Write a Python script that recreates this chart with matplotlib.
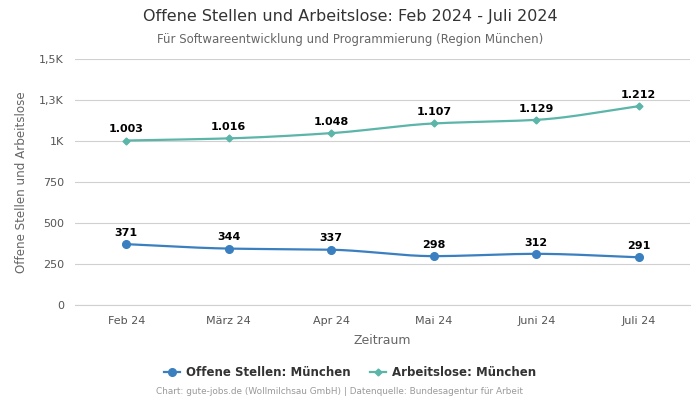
import numpy as np
import matplotlib.pyplot as plt

# Daten
months = ["Feb 24", "März 24", "Apr 24", "Mai 24", "Juni 24", "Juli 24"]
offene_stellen = [371, 344, 337, 298, 312, 291]
arbeitslose = [1003, 1016, 1048, 1107, 1129, 1212]

ytick_vals = [0, 250, 500, 750, 1000, 1250, 1500]
ytick_labels = ["0", "250", "500", "750", "1K", "1,3K", "1,5K"]


def fmt_de(v):
    return f"{v:,}".replace(",", ".")


def monotone_curve(x, y, n=40):
    """monotone kubische Hermite-Interpolation (wie Highcharts-Spline)"""
    x = np.asarray(x, float)
    y = np.asarray(y, float)
    h = np.diff(x)
    d = np.diff(y) / h
    m = np.zeros_like(y)
    m[0], m[-1] = d[0], d[-1]
    for i in range(1, len(y) - 1):
        if d[i - 1] * d[i] <= 0:
            m[i] = 0
        else:
            m[i] = 2 / (1 / d[i - 1] + 1 / d[i])
    xs, ys = [], []
    for i in range(len(x) - 1):
        t = np.linspace(0, 1, n)
        h00 = 2 * t**3 - 3 * t**2 + 1
        h10 = t**3 - 2 * t**2 + t
        h01 = -2 * t**3 + 3 * t**2
        h11 = t**3 - t**2
        xs.append(x[i] + t * h[i])
        ys.append(h00 * y[i] + h10 * h[i] * m[i] + h01 * y[i + 1] + h11 * h[i] * m[i + 1])
    return np.concatenate(xs), np.concatenate(ys)


blue = "#3a7fc0"
teal = "#5bb5a9"

fig = plt.figure(figsize=(7, 4), dpi=100)
ax = fig.add_axes([75 / 700, 1 - 305 / 400, 615 / 700, 246 / 400])

x = np.arange(len(months))

for vals, col, mk, ms in [(offene_stellen, blue, "o", 5.5), (arbeitslose, teal, "D", 3.5)]:
    cx, cy = monotone_curve(x, vals)
    ax.plot(cx, cy, color=col, lw=1.6, zorder=3)
    ax.plot(x, vals, ls="none", marker=mk, ms=ms, color=col, zorder=4)
    for xi, v in zip(x, vals):
        ax.annotate(fmt_de(v), (xi, v), xytext=(0, 4.5), textcoords="offset points",
                    ha="center", va="bottom", fontsize=8, fontweight="bold", color="black")

ax.set_xlim(-0.5, len(months) - 0.5)
ax.set_ylim(0, 1500)
ax.set_xticks(x)
ax.set_xticklabels(months, fontsize=8, color="#555555")
ax.set_yticks(ytick_vals)
ax.set_yticklabels(ytick_labels, fontsize=8, color="#555555")
ax.tick_params(length=0, pad=8)
ax.grid(axis="y", color="#d0d0d0", lw=0.8)
ax.set_axisbelow(True)
for s in ["top", "right", "left"]:
    ax.spines[s].set_visible(False)
ax.spines["bottom"].set_color("#d0d0d0")

ax.set_xlabel("Zeitraum", fontsize=9, color="#666666", labelpad=6)
ax.set_ylabel("Offene Stellen und Arbeitslose", fontsize=8.6, color="#666666", labelpad=8)

fig.text(0.5, 1 - 17 / 400, "Offene Stellen und Arbeitslose: Feb 2024 - Juli 2024",
         ha="center", va="center", fontsize=11.5, color="#333333")
fig.text(0.5, 1 - 39 / 400, "Für Softwareentwicklung und Programmierung (Region München)",
         ha="center", va="center", fontsize=8.5, color="#666666")

h1, = ax.plot([], [], color=blue, marker="o", ms=5.5, lw=1.6)
h2, = ax.plot([], [], color=teal, marker="D", ms=3.5, lw=1.6)
fig.legend([h1, h2], ["Offene Stellen: München", "Arbeitslose: München"],
           loc="center", bbox_to_anchor=(0.5, 1 - 373 / 400), ncol=2, frameon=False,
           prop={"size": 8.5, "weight": "bold"}, labelcolor="#333333",
           handlelength=1.4, columnspacing=1.6, handletextpad=0.5)

fig.text(340 / 700, 1 - 392 / 400,
         "Chart: gute-jobs.de (Wollmilchsau GmbH) | Datenquelle: Bundesagentur für Arbeit",
         ha="center", va="center", fontsize=6.4, color="#999999")

fig.savefig("out.png", dpi=100)
